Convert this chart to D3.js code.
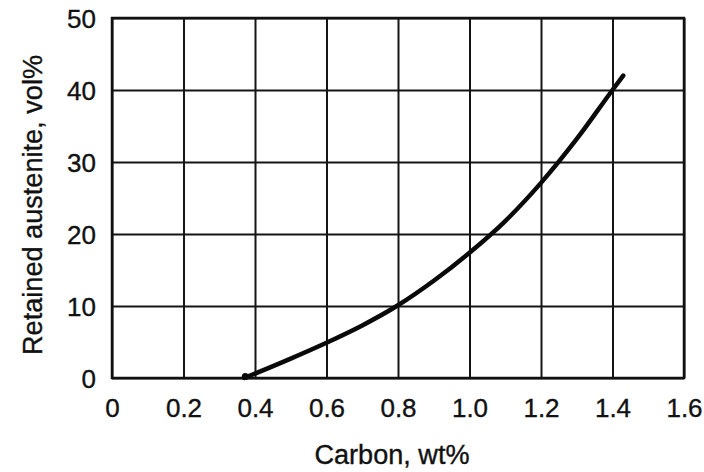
<!DOCTYPE html>
<html>
<head>
<meta charset="utf-8">
<script src="https://cdn.jsdelivr.net/npm/d3@7"></script>
<style>
  html, body { margin: 0; padding: 0; background: #ffffff; }
  svg { display: block; }
  text { font-family: "Liberation Sans", Arial, Helvetica, sans-serif; fill: #111; stroke: #111; stroke-width: 0.35px; }
</style>
</head>
<body>
<script>
// Data
const carbon = [0.37, 0.5, 0.6, 0.7, 0.8, 0.9, 1.0, 1.1, 1.2, 1.3, 1.4, 1.43];
const austenite = [0, 2.7, 4.9, 7.3, 10.1, 13.5, 17.4, 21.8, 27.1, 33.2, 40, 42];
const xTicks = [0, 0.2, 0.4, 0.6, 0.8, 1.0, 1.2, 1.4, 1.6];
const xTickLabels = ["0", "0.2", "0.4", "0.6", "0.8", "1.0", "1.2", "1.4", "1.6"];
const yTicks = [0, 10, 20, 30, 40, 50];
const yTickLabels = ["0", "10", "20", "30", "40", "50"];
const xTitle = "Carbon, wt%";
const yTitle = "Retained austenite, vol%";

const W = 704, H = 472;
const margin = { left: 112, right: 20, top: 18, bottom: 94 };

const svg = d3.select("body").append("svg").attr("width", W).attr("height", H);

const x = d3.scaleLinear().domain([0, 1.6]).range([margin.left, W - margin.right]);
const y = d3.scaleLinear().domain([0, 50]).range([H - margin.bottom, margin.top]);

// grid
const gx = svg.append("g").attr("transform", `translate(0,${y(0)})`)
  .call(d3.axisBottom(x).tickValues(xTicks).tickSize(-(y(0) - y(50))).tickFormat(""));
gx.select(".domain").remove();
gx.selectAll(".tick line").attr("stroke", "#151515").attr("stroke-width", 2);

const gy = svg.append("g").attr("transform", `translate(${x(0)},0)`)
  .call(d3.axisLeft(y).tickValues(yTicks).tickSize(-(x(1.6) - x(0))).tickFormat(""));
gy.select(".domain").remove();
gy.selectAll(".tick line").attr("stroke", "#151515").attr("stroke-width", 2);

// frame
svg.append("rect")
  .attr("x", x(0)).attr("y", y(50))
  .attr("width", x(1.6) - x(0)).attr("height", y(0) - y(50))
  .attr("fill", "none").attr("stroke", "#111").attr("stroke-width", 2.5);

// tick labels
const lx = svg.append("g").attr("transform", `translate(0,${y(0)})`)
  .call(d3.axisBottom(x).tickValues(xTicks).tickSize(0).tickPadding(0)
    .tickFormat((d, i) => xTickLabels[i]));
lx.select(".domain").remove();
lx.selectAll("text").attr("y", 39).attr("dy", 0)
  .style("font-size", "26px").attr("fill", "#111");

const ly = svg.append("g").attr("transform", `translate(${x(0)},0)`)
  .call(d3.axisLeft(y).tickValues(yTicks).tickSize(0).tickPadding(0)
    .tickFormat((d, i) => yTickLabels[i]));
ly.select(".domain").remove();
ly.selectAll("text").attr("x", -16).attr("dy", "0.36em")
  .style("font-size", "26px").attr("fill", "#111");

// curve
const pts = carbon.map((c, i) => [c, austenite[i]]);
const line = d3.line().x(d => x(d[0])).y(d => y(d[1])).curve(d3.curveMonotoneX);
svg.append("path").datum(pts)
  .attr("d", line)
  .attr("fill", "none").attr("stroke", "#0a0a0a").attr("stroke-width", 4.5)
  .attr("stroke-linecap", "round");
// small blob at the start of the curve
svg.append("circle").datum(pts[0])
  .attr("cx", d => x(d[0]) + 1).attr("cy", d => y(d[1]) - 1.5).attr("r", 3.5)
  .attr("fill", "#0a0a0a");

// titles
svg.append("text")
  .attr("x", 392).attr("y", 464)
  .attr("text-anchor", "middle")
  .attr("textLength", 155).attr("lengthAdjust", "spacingAndGlyphs")
  .style("font-size", "27px")
  .text(xTitle);

svg.append("text")
  .attr("transform", "translate(42,205) rotate(-90)")
  .attr("text-anchor", "middle")
  .attr("textLength", 300).attr("lengthAdjust", "spacingAndGlyphs")
  .style("font-size", "27px")
  .text(yTitle);
</script>
</body>
</html>
